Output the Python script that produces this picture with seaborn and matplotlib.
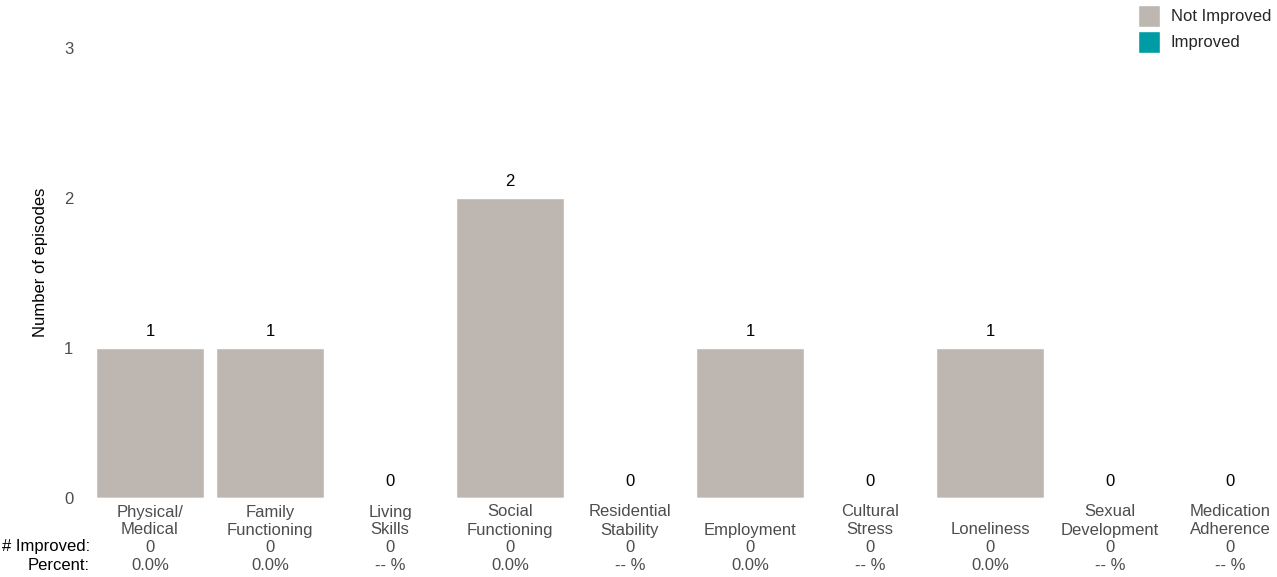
import matplotlib
matplotlib.use("Agg")
import matplotlib.pyplot as plt
import seaborn as sns
import pandas as pd
from matplotlib.patches import Patch

# Data
categories = ["Physical/\nMedical", "Family\nFunctioning", "Living\nSkills", "Social\nFunctioning",
              "Residential\nStability", "Employment", "Cultural\nStress", "Loneliness",
              "Sexual\nDevelopment", "Medication\nAdherence"]
not_improved = [1, 1, 0, 2, 0, 1, 0, 1, 0, 0]
improved = [0, 0, 0, 0, 0, 0, 0, 0, 0, 0]
percent_labels = ["0.0%", "0.0%", "-- %", "0.0%", "-- %", "0.0%", "-- %", "0.0%", "-- %", "-- %"]

gray = "#BEB6B0"
teal = "#009CA6"
text_col = "#4D4D4D"
fs = 12

sns.set_style("white")
plt.rcParams['font.family'] = ['Liberation Sans', 'DejaVu Sans']

df = pd.DataFrame({"category": categories,
                   "total": [a + b for a, b in zip(not_improved, improved)],
                   "improved": improved})

W, H = 1277, 577
fig = plt.figure(figsize=(W / 100, H / 100), dpi=100)
ax = fig.add_axes([90 / W, (H - 498) / H, 1200 / W, 450 / H])

sns.barplot(data=df, x="category", y="total", color=gray, width=0.9, ax=ax, saturation=1)
sns.barplot(data=df, x="category", y="improved", color=teal, width=0.9, ax=ax, saturation=1)

ax.set_xlim(-0.5, 9.5)
ax.set_ylim(0, 3)
ax.set_yticks([0, 1, 2, 3])
ax.tick_params(axis='y', length=0, labelsize=fs, labelcolor=text_col, pad=12)
ax.set_xticks([])
ax.set_xlabel("")
ax.set_ylabel("Number of episodes", fontsize=fs, color="black")
ax.yaxis.set_label_coords(-0.035, 0.524)
for s in ax.spines.values():
    s.set_visible(False)

# value labels above bars
for i, v in enumerate(df["total"]):
    ax.annotate(str(v), (i, v), xytext=(0, 17), textcoords="offset pixels",
                ha="center", va="center", fontsize=fs, color="black")

def yfrac(py):
    return (498 - py) / 450

tr = ax.get_xaxis_transform()
for i, name in enumerate(categories):
    lines = name.split("\n")
    if len(lines) == 1:
        lines = ["", lines[0]]
    ax.text(i, yfrac(512), lines[0], transform=tr, ha="center", va="center", fontsize=fs, color=text_col)
    ax.text(i, yfrac(530), lines[1], transform=tr, ha="center", va="center", fontsize=fs, color=text_col)
    ax.text(i, yfrac(547), str(improved[i]), transform=tr, ha="center", va="center", fontsize=fs, color=text_col)
    ax.text(i, yfrac(565), percent_labels[i], transform=tr, ha="center", va="center", fontsize=fs, color=text_col)

ax.text(90 / W, (H - 547) / H, "# Improved:", transform=fig.transFigure, ha="right", va="center",
        fontsize=fs, color="black")
ax.text(90 / W, (H - 565) / H, "Percent:", transform=fig.transFigure, ha="right", va="center",
        fontsize=fs, color="black")

handles = [Patch(facecolor=gray, label="Not Improved"), Patch(facecolor=teal, label="Improved")]
fig.legend(handles=handles, loc="upper left", bbox_to_anchor=(1138 / W, 1 - 5 / H), frameon=False,
           fontsize=fs, borderpad=0, borderaxespad=0, handlelength=1.32, handleheight=1.65,
           handletextpad=0.66, labelspacing=0.24)

fig.savefig("out.png", dpi=100)
